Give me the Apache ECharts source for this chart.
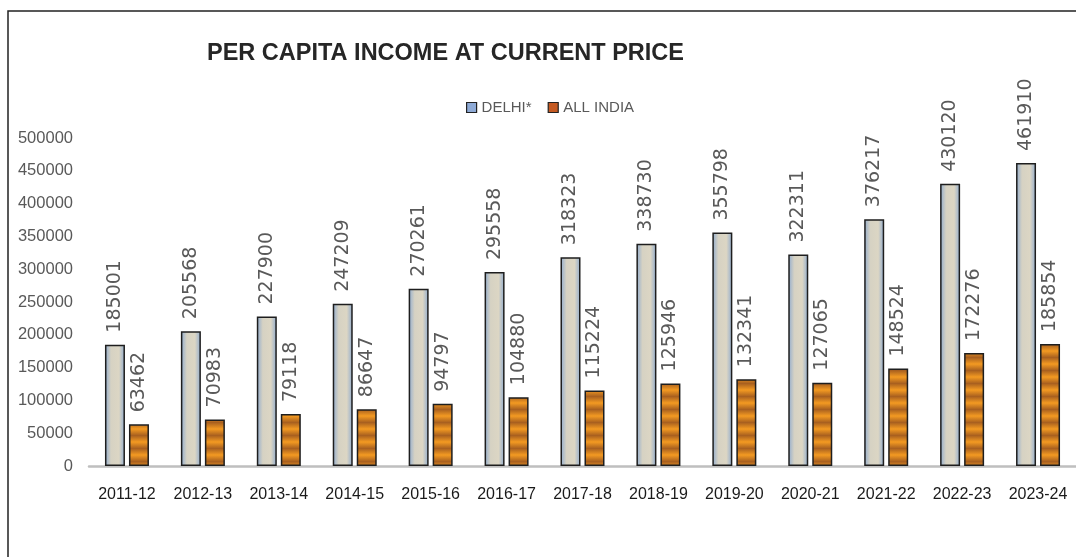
<!DOCTYPE html>
<html>
<head>
<meta charset="utf-8">
<script src="https://cdn.jsdelivr.net/npm/echarts@6/dist/echarts.min.js"></script>
<style>
html,body{margin:0;padding:0;background:#fff;}
#c{width:1076px;height:557px;}
</style>
</head>
<body>
<div id="c"></div>
<script>
const categories = ['2011-12','2012-13','2013-14','2014-15','2015-16','2016-17','2017-18','2018-19','2019-20','2020-21','2021-22','2022-23','2023-24'];
const delhi = [185001,205568,227900,247209,270261,295558,318323,338730,355798,322311,376217,430120,461910];
const allIndia = [63462,70983,79118,86647,94797,104880,115224,125946,132341,127065,148524,172276,185854];
const seriesNames = ['DELHI*','ALL INDIA'];
const titleText = 'PER CAPITA INCOME AT CURRENT PRICE';

// striped orange pattern
const pc = document.createElement('canvas');
pc.width = 4; pc.height = 13;
const pctx = pc.getContext('2d');
const pg = pctx.createLinearGradient(0,0,0,13);
pg.addColorStop(0,'#f39a22');
pg.addColorStop(0.5,'#a9601f');
pg.addColorStop(1,'#f39a22');
pctx.fillStyle = pg; pctx.fillRect(0,0,4,13);

const delhiFill = new echarts.graphic.LinearGradient(0,0,1,0,[
  {offset:0,color:'#8fabcf'},
  {offset:0.3,color:'#d6d2c3'},
  {offset:0.7,color:'#dcd6c4'},
  {offset:1,color:'#8fabcf'}
]);

const labelCommon = {
  show: true,
  position: 'top',
  rotate: 90,
  align: 'left',
  verticalAlign: 'middle',
  distance: 12,
  color: '#595959',
  fontFamily: 'DejaVu Sans',
  fontSize: 19,
  formatter: p => String(p.value)
};

const chart = echarts.init(document.getElementById('c'), null, {renderer:'canvas'});
chart.setOption({
  backgroundColor: '#ffffff',
  animation: false,
  title: {
    text: titleText,
    left: 207, top: 42, padding: 0,
    textStyle: {fontFamily: 'Liberation Sans', fontWeight: 'bold', fontSize: 23.5, color: '#262626'}
  },
  legend: {
    left: 466, top: 100, padding: 0,
    itemWidth: 10, itemHeight: 10, itemGap: 16,
    textStyle: {fontFamily: 'Liberation Sans', fontSize: 15, color: '#595959', padding: [0,0,0,0]},
    data: [
      {name: seriesNames[0], icon: 'rect', itemStyle: {color: '#8eaad6', borderColor: '#222', borderWidth: 1.2}},
      {name: seriesNames[1], icon: 'rect', itemStyle: {color: '#c55a22', borderColor: '#222', borderWidth: 1.2}}
    ]
  },
  graphic: [{
    type: 'rect', silent: true, z: 100,
    shape: {x: 8, y: 11, width: 1200, height: 700},
    style: {fill: 'none', stroke: '#222', lineWidth: 1.5}
  }],
  grid: {left: 89, top: 138, width: 991, bottom: 91},
  xAxis: {
    type: 'category',
    data: categories,
    axisLine: {show: true, lineStyle: {color: '#bfbfbf', width: 2.5}},
    axisTick: {show: false},
    axisLabel: {interval: 0, margin: 21, fontFamily: 'Liberation Sans', fontSize: 16, color: '#1a1a1a'}
  },
  yAxis: {
    type: 'value',
    min: 0, max: 500000, interval: 50000,
    axisLine: {show: false},
    axisTick: {show: false},
    splitLine: {show: false},
    axisLabel: {margin: 16, fontFamily: 'Liberation Sans', fontSize: 16.5, color: '#595959', formatter: v => String(v)}
  },
  series: [
    {
      name: seriesNames[0], type: 'bar', data: delhi,
      barWidth: 20, barGap: '20%',
      itemStyle: {color: delhiFill, borderColor: '#1e1e1e', borderWidth: 1.5},
      label: labelCommon
    },
    {
      name: seriesNames[1], type: 'bar', data: allIndia,
      barWidth: 20,
      itemStyle: {color: {image: pc, repeat: 'repeat'}, borderColor: '#1e1e1e', borderWidth: 1.5},
      label: labelCommon
    }
  ]
});
</script>
</body>
</html>
